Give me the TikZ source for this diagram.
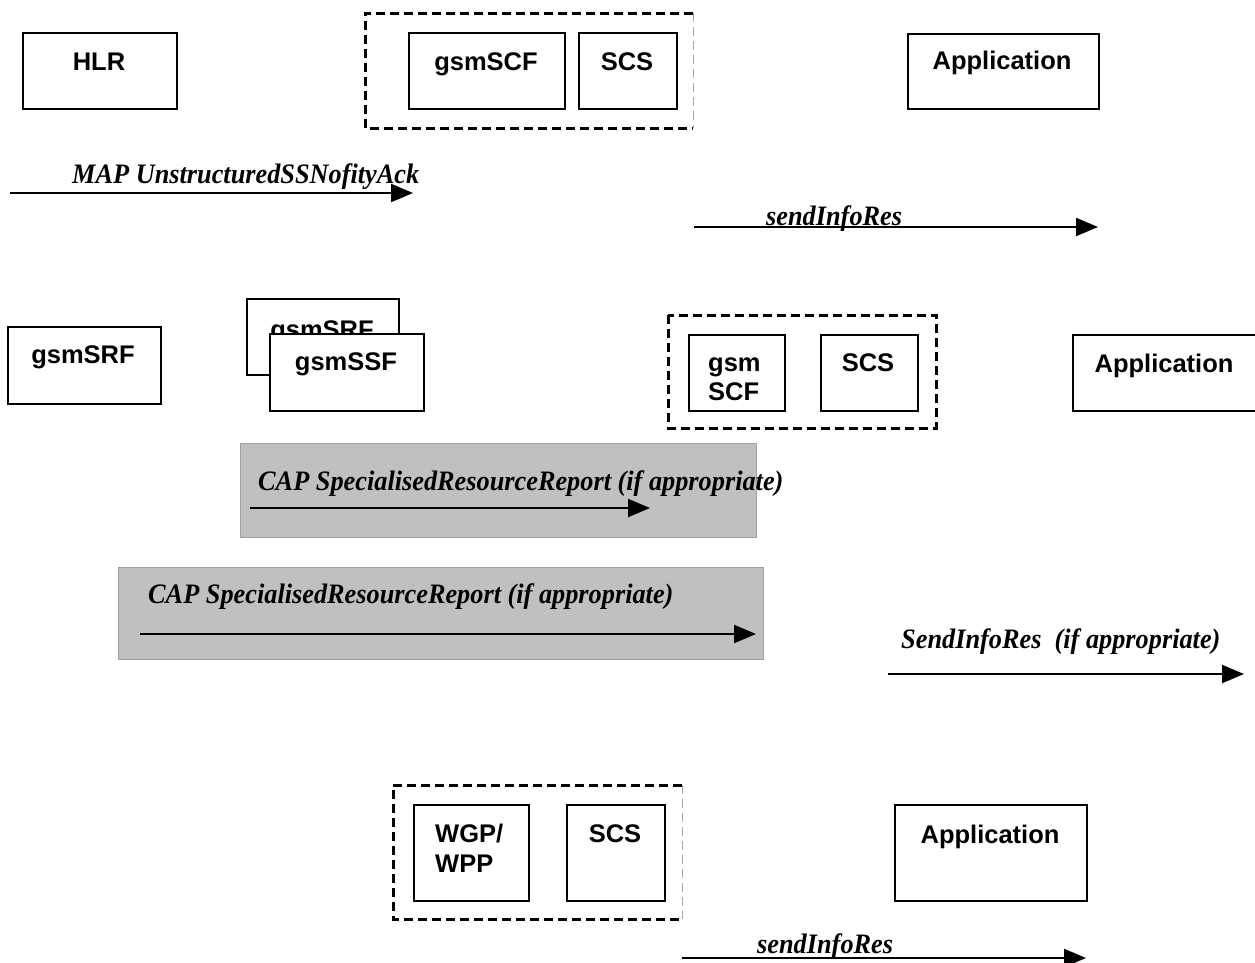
\documentclass[tikz,border=0pt]{standalone}
\usepackage{fontspec}
\setmainfont{Liberation Serif}
\setsansfont{Liberation Sans}
\usetikzlibrary{arrows.meta}
\definecolor{grayfill}{RGB}{192,192,192}
\definecolor{grayline}{RGB}{160,160,160}
\newcommand{\msgtext}[1]{\scalebox{1}[1.07]{#1}}
\begin{document}
\begin{tikzpicture}[x=1pt,y=-1pt,
  ent/.style={draw, line width=1.9pt, fill=white, inner sep=0pt, anchor=north west},
  entlbl/.style={font=\sffamily\bfseries\fontsize{25.5}{30}\selectfont, anchor=base, inner sep=0pt},
  entlblw/.style={entlbl, anchor=base west},
  msglbl/.style={font=\rmfamily\bfseries\itshape\fontsize{26.3}{30}\selectfont, anchor=base west, inner sep=0pt},
  msg/.style={line width=2.3pt, -{Triangle[length=22pt,width=18pt]}},
  grp/.style={line width=3pt, dash pattern=on 9pt off 5pt},
  grpedge/.style={line width=0.8pt, draw=black!35, dash pattern=on 9pt off 5pt},
  shade/.style={fill=grayfill, draw=grayline, line width=1pt, anchor=north west, inner sep=0pt}
]
\useasboundingbox (0,0) rectangle (1255,962);

% ---- first scenario: HLR / gsmSCF+SCS / Application ----
\node[ent, minimum width=154pt, minimum height=76pt] (hlr) at (22,32) {};
\node[entlbl] (hlrT) at (99,70) {HLR};
\draw[grp] (693,13) -- (365,13) -- (365,128) -- (693,128);
\draw[grpedge] (693,13) -- (693,128);
\node[ent, minimum width=156pt, minimum height=76pt] (scfA) at (408,32) {};
\node[entlbl] (scfAT) at (486,70) {gsmSCF};
\node[ent, minimum width=98pt, minimum height=76pt] (scsA) at (578,32) {};
\node[entlbl] (scsAT) at (627,70) {SCS};
\node[ent, minimum width=191pt, minimum height=75pt] (appA) at (907,33) {};
\node[entlbl] (appAT) at (1002,69) {Application};

\coordinate (m1s) at (10,193);  \coordinate (m1e) at (413,193);
\draw[msg] (m1s) -- (m1e);
\node[msglbl] (m1T) at (72,183) {\msgtext{MAP UnstructuredSSNofityAck}};

\coordinate (m2s) at (694,227); \coordinate (m2e) at (1098,227);
\draw[msg] (m2s) -- (m2e);
\node[msglbl] (m2T) at (766,225) {\msgtext{sendInfoRes}};

% ---- second scenario: gsmSRF / gsmSSF / gsmSCF+SCS / Application ----
\node[ent, minimum width=153pt, minimum height=77pt] (srfA) at (7,326) {};
\node[entlbl] (srfAT) at (83,363) {gsmSRF};
\node[ent, minimum width=152pt, minimum height=76pt] (srfB) at (246,298) {};
\node[entlbl] (srfBT) at (322,338) {gsmSRF};
\node[ent, minimum width=154pt, minimum height=77pt] (ssf) at (269,333) {};
\node[entlbl] (ssfT) at (346,370) {gsmSSF};

\draw[grp] (668,315) rectangle (936,428);
\node[ent, minimum width=96pt, minimum height=76pt] (scfB) at (688,334) {};
\node[entlblw] (scfBT1) at (708,371) {gsm};
\node[entlblw] (scfBT2) at (708,400) {SCF};
\node[ent, minimum width=97pt, minimum height=76pt] (scsB) at (820,334) {};
\node[entlbl] (scsBT) at (868,371) {SCS};
\node[ent, minimum width=185pt, minimum height=76pt] (appB) at (1072,334) {};
\node[entlbl] (appBT) at (1164,372) {Application};

\node[shade, minimum width=516pt, minimum height=94pt] (optA) at (240,443) {};
\coordinate (m3s) at (250,508); \coordinate (m3e) at (650,508);
\draw[msg] (m3s) -- (m3e);
\node[msglbl] (m3T) at (258,490) {\msgtext{CAP SpecialisedResourceReport (if appropriate)}};

\node[shade, minimum width=645pt, minimum height=92pt] (optB) at (118,567) {};
\coordinate (m4s) at (140,634); \coordinate (m4e) at (756,634);
\draw[msg] (m4s) -- (m4e);
\node[msglbl] (m4T) at (148,603) {\msgtext{CAP SpecialisedResourceReport (if appropriate)}};

\coordinate (m5s) at (888,674); \coordinate (m5e) at (1244,674);
\draw[msg] (m5s) -- (m5e);
\node[msglbl] (m5T) at (901,648) {\msgtext{SendInfoRes\ \ (if appropriate)}};

% ---- third scenario: WGP/WPP+SCS / Application ----
\draw[grp] (682,785) -- (393,785) -- (393,919) -- (682,919);
\draw[grpedge] (682,785) -- (682,919);
\node[ent, minimum width=115pt, minimum height=96pt] (wgp) at (413,804) {};
\node[entlblw] (wgpT1) at (435,842) {WGP/};
\node[entlblw] (wgpT2) at (435,872) {WPP};
\node[ent, minimum width=98pt, minimum height=96pt] (scsC) at (566,804) {};
\node[entlbl] (scsCT) at (615,842) {SCS};
\node[ent, minimum width=192pt, minimum height=96pt] (appC) at (894,804) {};
\node[entlbl] (appCT) at (990,843) {Application};

\coordinate (m6s) at (682,958); \coordinate (m6e) at (1086,958);
\draw[msg] (m6s) -- (m6e);
\node[msglbl] (m6T) at (757,953) {\msgtext{sendInfoRes}};
\end{tikzpicture}
\end{document}
